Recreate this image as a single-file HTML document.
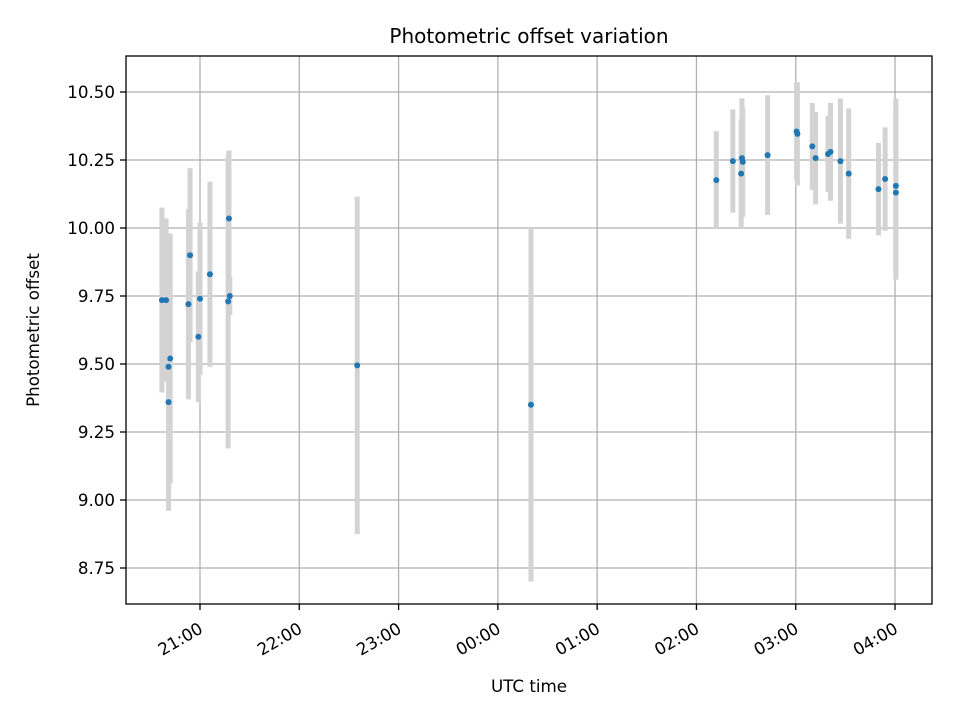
<!DOCTYPE html>
<html><head><meta charset="utf-8"><style>
body{margin:0;background:#fff}
svg{font-family:"DejaVu Sans","Liberation Sans",sans-serif}
</style></head><body>
<svg id="chart" width="960" height="720" xmlns="http://www.w3.org/2000/svg">
<rect width="960" height="720" fill="#fff"/>
<g id="grid"></g><g id="bars"></g><g id="pts"></g><g id="axes"></g>
<text x="529" y="43" text-anchor="middle" font-size="20">Photometric offset variation</text>
<text x="529" y="692" text-anchor="middle" font-size="16.7">UTC time</text>
<text transform="translate(39,330) rotate(-90)" text-anchor="middle" font-size="16.7">Photometric offset</text>
</svg>
<script>
const times=["20:37","20:39.5","20:41","20:41","20:42","20:53","20:54","20:59","21:00","21:06","21:17","21:17.5","21:18","22:35","00:20","02:12","02:22","02:27","02:27.5","02:28","02:43","03:00.5","03:01","03:10","03:12","03:19.5","03:21","03:27","03:32","03:50","03:54","04:00.5","04:00.5"];
const values=[9.735,9.735,9.36,9.49,9.52,9.72,9.90,9.60,9.74,9.83,9.73,10.035,9.75,9.495,9.35,10.176,10.246,10.20,10.257,10.243,10.268,10.355,10.346,10.30,10.257,10.272,10.28,10.246,10.20,10.143,10.18,10.155,10.13];
const errors=[0.34,0.30,0.40,0.45,0.46,0.35,0.32,0.24,0.28,0.34,0.54,0.25,0.07,0.62,0.65,0.18,0.19,0.20,0.22,0.20,0.22,0.18,0.19,0.16,0.17,0.14,0.18,0.23,0.24,0.17,0.19,0.32,0.32];
const yTicks=[8.75,9.00,9.25,9.50,9.75,10.00,10.25,10.50];
const xTickLabels=["21:00","22:00","23:00","00:00","01:00","02:00","03:00","04:00"];
const NS="http://www.w3.org/2000/svg";
const L=126,R=932,T=56,B=604;
function hrs(s){const p=s.split(":");let h=+p[0]+(+p[1])/60;if(h<12)h+=24;return h-21;}
function xs(h){return 200+h*99.29;}
function ys(v){return 92+(10.5-v)*272;}
function mk(tag,attrs,parent){const e=document.createElementNS(NS,tag);for(const k in attrs)e.setAttribute(k,attrs[k]);document.getElementById(parent).appendChild(e);return e;}
yTicks.forEach(v=>{const y=ys(v);
 let g=mk("line",{x1:L,x2:R,y1:y,y2:y,stroke:"#b0b0b0","stroke-width":1.3},"grid");
 
 
 mk("line",{x1:L-6,x2:L,y1:y,y2:y,stroke:"#000","stroke-width":1.3},"axes");
 let t=mk("text",{x:L-11,y:y+6,"text-anchor":"end","font-size":"16.7"},"axes");t.textContent=v.toFixed(2);
 
 
});
xTickLabels.forEach((s,i)=>{const x=xs(i);
 let g=mk("line",{x1:x,x2:x,y1:T,y2:B,stroke:"#b0b0b0","stroke-width":1.3},"grid");
 
 
 mk("line",{x1:x,x2:x,y1:B,y2:B+6,stroke:"#000","stroke-width":1.3},"axes");
 let t=mk("text",{transform:`translate(${x+4},${B+28}) rotate(-30)`,"text-anchor":"end","font-size":"16.7"},"axes");t.textContent=s;
 
 
});
let f=mk("rect",{x:L,y:T,width:R-L,height:B-T,fill:"none",stroke:"#000","stroke-width":1.3},"axes");


times.forEach((s,i)=>{const x=xs(hrs(s));
 let b=mk("line",{x1:x,x2:x,y1:ys(values[i]+errors[i]),y2:ys(values[i]-errors[i]),stroke:"#d3d3d3","stroke-width":5},"bars");
 
 
 let c=mk("circle",{cx:x,cy:ys(values[i]),r:3,fill:"#1f77b4"},"pts");
 
 
});
</script>
</body></html>
